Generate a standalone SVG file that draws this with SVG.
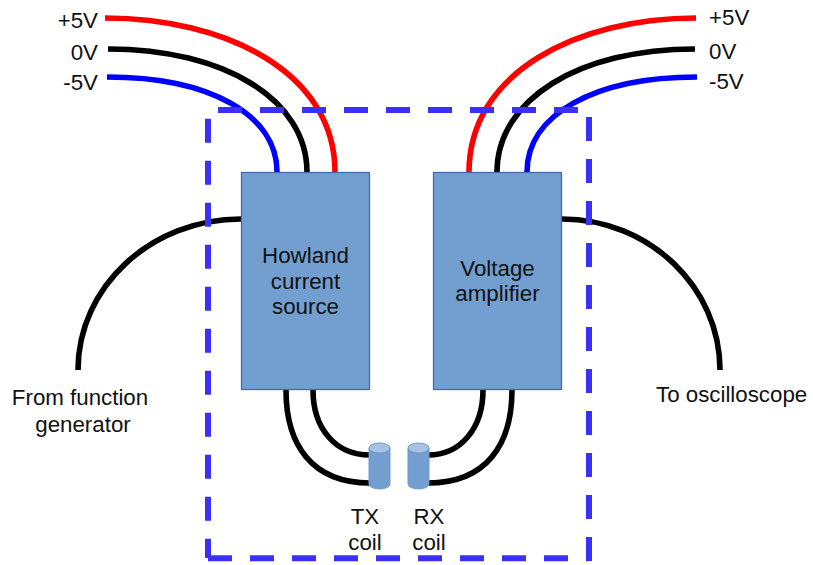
<svg xmlns="http://www.w3.org/2000/svg" width="813" height="565" viewBox="0 0 813 565">
<style>
text{font-family:"Liberation Sans",Arial,sans-serif;font-size:22.3px;fill:#111}
.m{text-anchor:middle}
.e{text-anchor:end}
.w{fill:none;stroke-width:5.6;stroke:#000}
.r{stroke:#f00}
.b{stroke:#00f}
.d{fill:none;stroke:#3b30fa;stroke-width:6;stroke-dasharray:24 18}
.box{fill:#729fcf;stroke:#3f6fa8;stroke-width:1.3}
.cyl{fill:#729fcf;stroke:#6f9acb;stroke-width:1}
.top{fill:#a6c3e4;stroke:#6f9acb;stroke-width:1}
</style>
<rect width="813" height="565" fill="#fff"/>
<g id="connectors">
<path class="w r" d="M105,18 C225,18 335,72 335,172"/>
<path class="w" d="M108,49 C225,49 307,100 307,172"/>
<path class="w b" d="M107,77 C210,77 277,115 277,172"/>
<path class="w r" d="M696,18 C578,18 469,72 469,172"/>
<path class="w" d="M695,49 C578,49 497,100 497,172"/>
<path class="w b" d="M697,77 C594,77 527,115 527,172"/>
<path class="w" d="M241,219 C151,219 78,287 78,370"/>
<path class="w" d="M562,219 C649,219 720,287 720,370"/>
<path class="w" d="M286,390 C286,445 312,483 370,483"/>
<path class="w" d="M313,390 C313,428 335,455 370,455"/>
<path class="w" d="M512,390 C512,445 486,483 428,483"/>
<path class="w" d="M483,390 C483,428 461,455 428,455"/>
</g>
<g id="howland"><rect class="box" x="241.5" y="172.5" width="128" height="217"/>
<text class="m" x="305.500" y="262.500">Howland</text><text class="m" x="305.500" y="289">current</text><text class="m" x="305.500" y="314">source</text></g>
<g id="amplifier"><rect class="box" x="433.500" y="172.500" width="128" height="217"/>
<text class="m" x="497.500" y="276">Voltage</text><text class="m" x="497.500" y="301">amplifier</text></g>
<g id="tx-coil"><path class="cyl" d="M369,448 V484 A10.500,5 0 0 0 390,484 V448 Z"/><ellipse class="top" cx="379.500" cy="448" rx="10.500" ry="5"/>
<text class="m" x="365" y="524">TX</text><text class="m" x="365" y="550">coil</text></g>
<g id="rx-coil"><path class="cyl" d="M408,448 V484 A10.500,5 0 0 0 429,484 V448 Z"/><ellipse class="top" cx="418.500" cy="448" rx="10.500" ry="5"/>
<text class="m" x="429" y="524">RX</text><text class="m" x="429" y="550">coil</text></g>
<g id="boundary">
<path class="d" d="M218,110 H578"/>
<path class="d" d="M208,118.700 V558"/>
<path class="d" d="M208,558.300 H589"/>
<path class="d" d="M589,117 V561"/>
</g>
<g id="labels">
<text class="e" x="98" y="28">+5V</text><text class="e" x="98" y="60">0V</text><text class="e" x="98" y="90">-5V</text>
<text x="709" y="25">+5V</text><text x="709" y="59">0V</text><text x="709" y="89">-5V</text>
<text class="m" x="80" y="405">From function</text><text class="m" x="83" y="431.500">generator</text>
<text x="656" y="401.500">To oscilloscope</text>
</g>
</svg>
